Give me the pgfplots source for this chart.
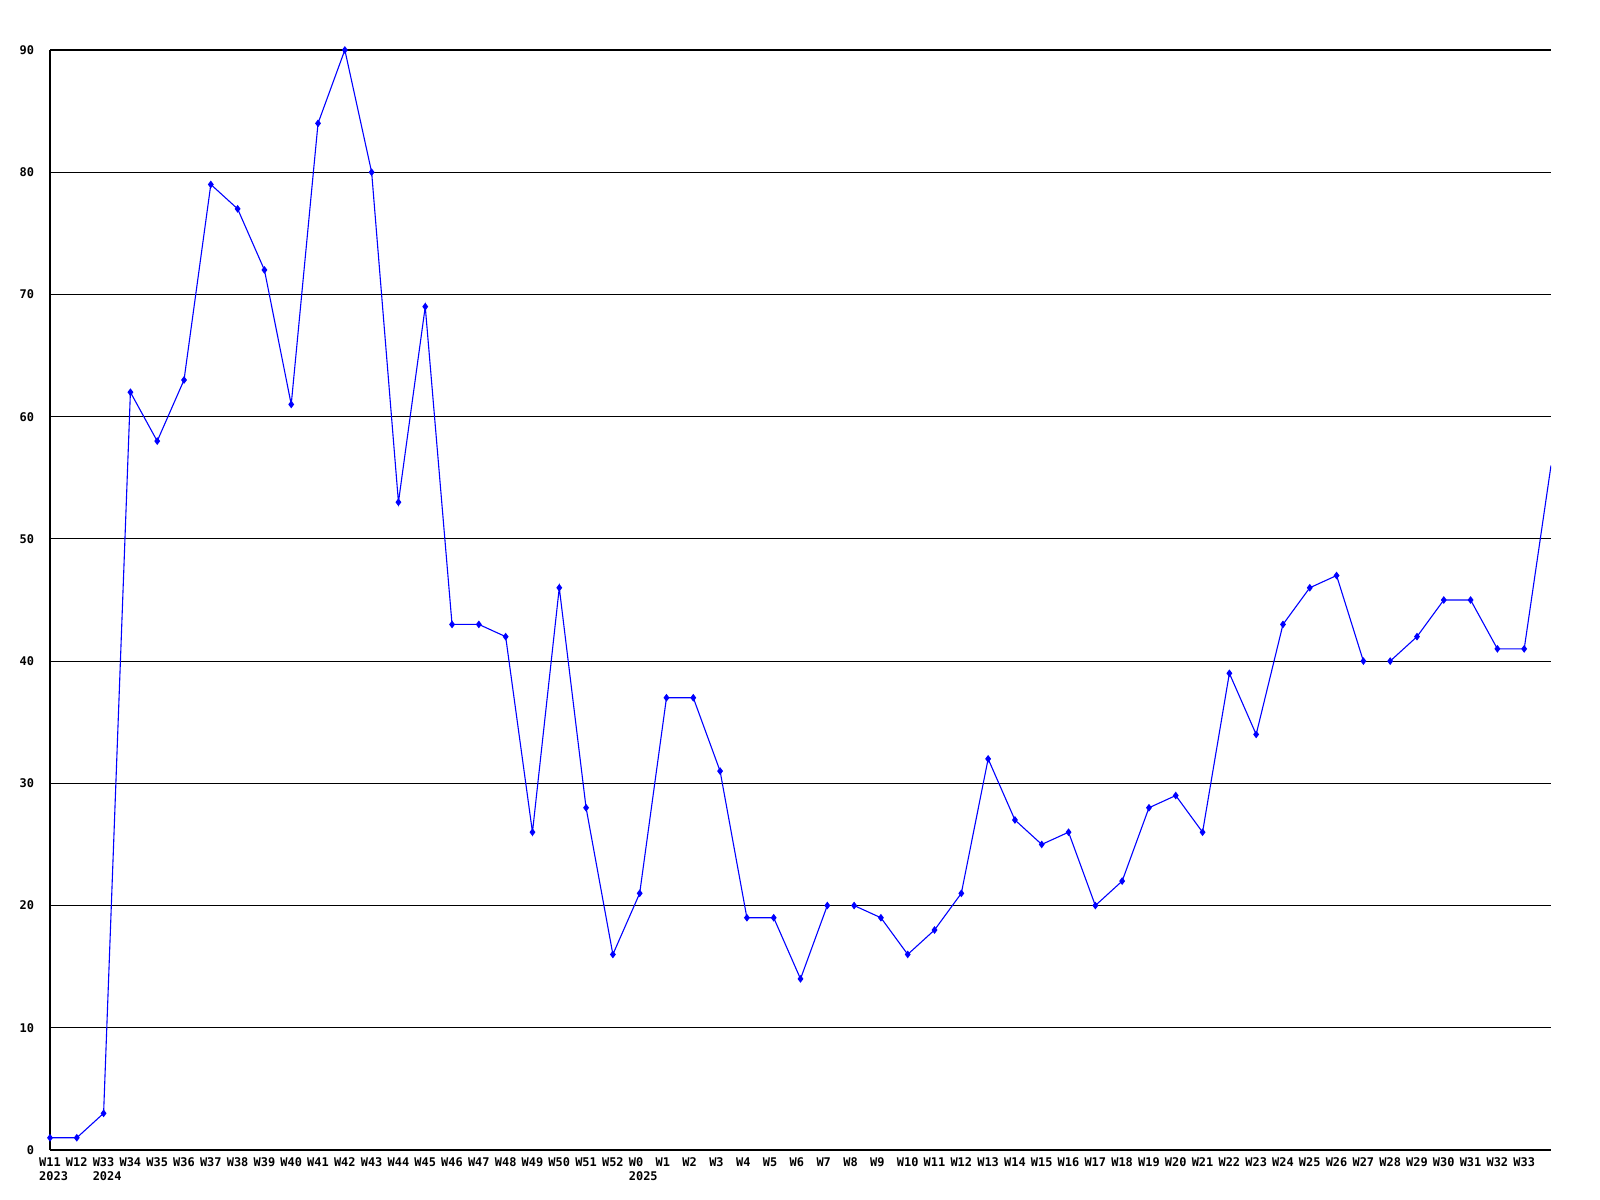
\documentclass[border=0pt]{standalone}
\usepackage{fontspec}
\setmonofont{DejaVu Sans Mono}
\usepackage{pgfplots}
\pgfplotsset{compat=1.18}
\begin{document}
\begin{tikzpicture}
\begin{axis}[
  scale only axis, width=750.5bp, height=550bp,
  xmin=0, xmax=56, ymin=0, ymax=90,
  axis x line*=bottom, axis y line*=left,
  axis line style={black, line width=0.55bp},
  ytick={0,10,...,90}, ymajorgrids,
  grid style={black, line width=0.55bp},
  xtick={0,...,55},
  xticklabels={{W11\\2023},W12,{W33\\2024},W34,W35,W36,W37,W38,W39,W40,W41,W42,W43,W44,W45,W46,W47,W48,W49,W50,W51,W52,{W0\\2025},W1,W2,W3,W4,W5,W6,W7,W8,W9,W10,W11,W12,W13,W14,W15,W16,W17,W18,W19,W20,W21,W22,W23,W24,W25,W26,W27,W28,W29,W30,W31,W32,W33},
  major tick length=0pt,
  /pgf/number format/assume math mode=true,
  tick label style={font=\ttfamily\bfseries\fontsize{6}{7.2}\selectfont},
  xticklabel style={anchor=north west, xshift=-6.6bp, yshift=-2.5bp, align=left, inner sep=1pt},
  yticklabel style={anchor=east, xshift=-4.5bp},
]
\coordinate (ll) at (rel axis cs:0,0);
\coordinate (ur) at (rel axis cs:1,1);
\addplot[mark=diamond*, mark size=1.5bp, color={rgb,255:red,0;green,0;blue,255}, line width=0.55bp] coordinates {
(0,1)(1,1)(2,3)(3,62)(4,58)(5,63)(6,79)(7,77)(8,72)(9,61)(10,84)(11,90)(12,80)(13,53)(14,69)(15,43)(16,43)(17,42)(18,26)(19,46)(20,28)(21,16)(22,21)(23,37)(24,37)(25,31)(26,19)(27,19)(28,14)(29,20)
};
\addplot[mark=diamond*, mark size=1.5bp, color={rgb,255:red,0;green,0;blue,255}, line width=0.55bp] coordinates {
(30,20)(31,19)(32,16)(33,18)(34,21)(35,32)(36,27)(37,25)(38,26)(39,20)(40,22)(41,28)(42,29)(43,26)(44,39)(45,34)(46,43)(47,46)(48,47)(49,40)
};
\addplot[mark=diamond*, mark size=1.5bp, color={rgb,255:red,0;green,0;blue,255}, line width=0.55bp] coordinates {
(50,40)(51,42)(52,45)(53,45)(54,41)(55,41)
};
\addplot[no marks, color={rgb,255:red,0;green,0;blue,255}, line width=0.55bp] coordinates {
(55,41)(56,56)
};
\end{axis}
\path ([xshift=-25bp,yshift=-25bp]ll) rectangle ([xshift=24.5bp,yshift=25bp]ur);
\end{tikzpicture}
\end{document}
